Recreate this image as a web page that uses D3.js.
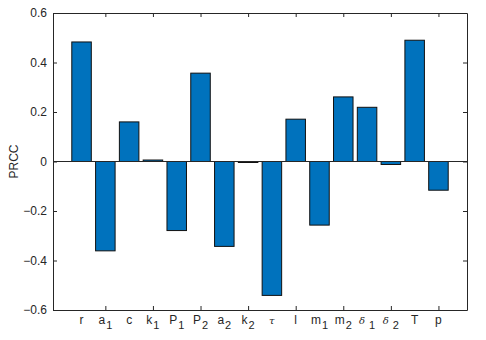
<!DOCTYPE html>
<html>
<head>
<meta charset="utf-8">
<script src="https://cdn.jsdelivr.net/npm/d3@7"></script>
<style>
  body { margin: 0; background: #fff; }
  text { font-family: 'Liberation Sans', Arial, sans-serif; }
</style>
</head>
<body>
<div id="chart"></div>
<script>
// parameter names: base letter, subscript, italic greek?
let paramBase = ['r', 'a', 'c', 'k', 'P', 'P', 'a', 'k', 'τ', 'l', 'm', 'm', 'δ', 'δ', 'T', 'p']
let paramSub = ['', '1', '', '1', '1', '2', '2', '2', '', '', '1', '2', '1', '2', '', '']
let prcc = [0.483, -0.361, 0.16, 0.006, -0.279, 0.357, -0.343, -0.004, -0.541, 0.171, -0.257, 0.261, 0.219, -0.012, 0.49, -0.116]
let yTicks = [-0.6, -0.4, -0.2, 0, 0.2, 0.4, 0.6]

let margin = { top: 13, left: 53, right: 19, bottom: 30 }
let width = 486 - margin.left - margin.right
let height = 340 - margin.top - margin.bottom

let svg = d3
  .select('#chart')
  .append('svg')
  .attr('width', 486)
  .attr('height', 340)
  .append('g')
  .attr('transform', `translate(${margin.left},${margin.top})`)

let idx = d3.range(1, prcc.length + 1)

let xPositionScale = d3.scaleLinear().domain([-0.2, 17.2]).range([0, width])
let yPositionScale = d3.scaleLinear().domain([-0.6, 0.6]).range([height, 0])

let barWidth = (xPositionScale(1) - xPositionScale(0)) * 0.82

// bars
svg
  .selectAll('.bar')
  .data(prcc)
  .enter()
  .append('rect')
  .attr('class', 'bar')
  .attr('x', (d, i) => xPositionScale(i + 1) - barWidth / 2)
  .attr('width', barWidth)
  .attr('y', d => yPositionScale(Math.max(0, d)))
  .attr('height', d => Math.max(1, Math.abs(yPositionScale(d) - yPositionScale(0))))
  .attr('fill', '#0072BD')
  .attr('stroke', '#111')
  .attr('stroke-width', 1)

// baseline
svg
  .append('line')
  .attr('x1', 0)
  .attr('x2', width)
  .attr('y1', yPositionScale(0))
  .attr('y2', yPositionScale(0))
  .attr('stroke', '#262626')

// box axes, ticks pointing inward
let yAxis = d3.axisLeft(yPositionScale).tickValues(yTicks).tickSizeInner(-4).tickSizeOuter(0)
  .tickPadding(6).tickFormat(d => (d === 0 ? '0' : d3.format('.1f')(d)))
svg.append('g').attr('class', 'axis y-axis').call(yAxis)

let yAxisRight = d3.axisRight(yPositionScale).tickValues(yTicks).tickSizeInner(-4).tickSizeOuter(0).tickFormat('')
svg.append('g').attr('class', 'axis').attr('transform', `translate(${width},0)`).call(yAxisRight)

let evenIdx = idx.filter(d => d % 2 === 0)
let xAxis = d3.axisBottom(xPositionScale).tickValues(evenIdx).tickSizeInner(-4).tickSizeOuter(0).tickFormat('')
svg.append('g').attr('class', 'axis').attr('transform', `translate(0,${height})`).call(xAxis)

let xAxisTop = d3.axisTop(xPositionScale).tickValues(evenIdx).tickSizeInner(-4).tickSizeOuter(0).tickFormat('')
svg.append('g').attr('class', 'axis').call(xAxisTop)

svg.selectAll('.axis path').attr('stroke', '#262626')
svg.selectAll('.axis line').attr('stroke', '#262626')
svg.selectAll('.y-axis text').attr('font-size', 12).attr('fill', '#262626')

// x labels with subscripts
let labels = svg
  .selectAll('.xlabel')
  .data(idx)
  .enter()
  .append('text')
  .attr('class', 'xlabel')
  .attr('x', d => xPositionScale(d))
  .attr('y', height + 14)
  .attr('text-anchor', 'middle')
  .attr('font-size', 12)
  .attr('fill', '#262626')

labels
  .append('tspan')
  .text((d, i) => paramBase[i])
  .attr('font-style', (d, i) => (paramBase[i] === 'τ' || paramBase[i] === 'δ' ? 'italic' : null))
  .attr('font-family', (d, i) => (paramBase[i] === 'τ' || paramBase[i] === 'δ' ? "'DejaVu Serif', serif" : null))
  .attr('font-size', (d, i) => (paramBase[i] === 'τ' || paramBase[i] === 'δ' ? 10 : 12))

labels
  .filter((d, i) => paramSub[i] !== '')
  .append('tspan')
  .text(d => paramSub[d - 1])
  .attr('dx', d => (paramBase[d - 1] === 'δ' ? 4 : 1))
  .attr('dy', 5)
  .attr('font-size', 11)

// y label
svg
  .append('text')
  .text('PRCC')
  .attr('transform', `translate(${-35},${yPositionScale(0)}) rotate(-90)`)
  .attr('text-anchor', 'middle')
  .attr('font-size', 12)
  .attr('fill', '#262626')
</script>
</body>
</html>
